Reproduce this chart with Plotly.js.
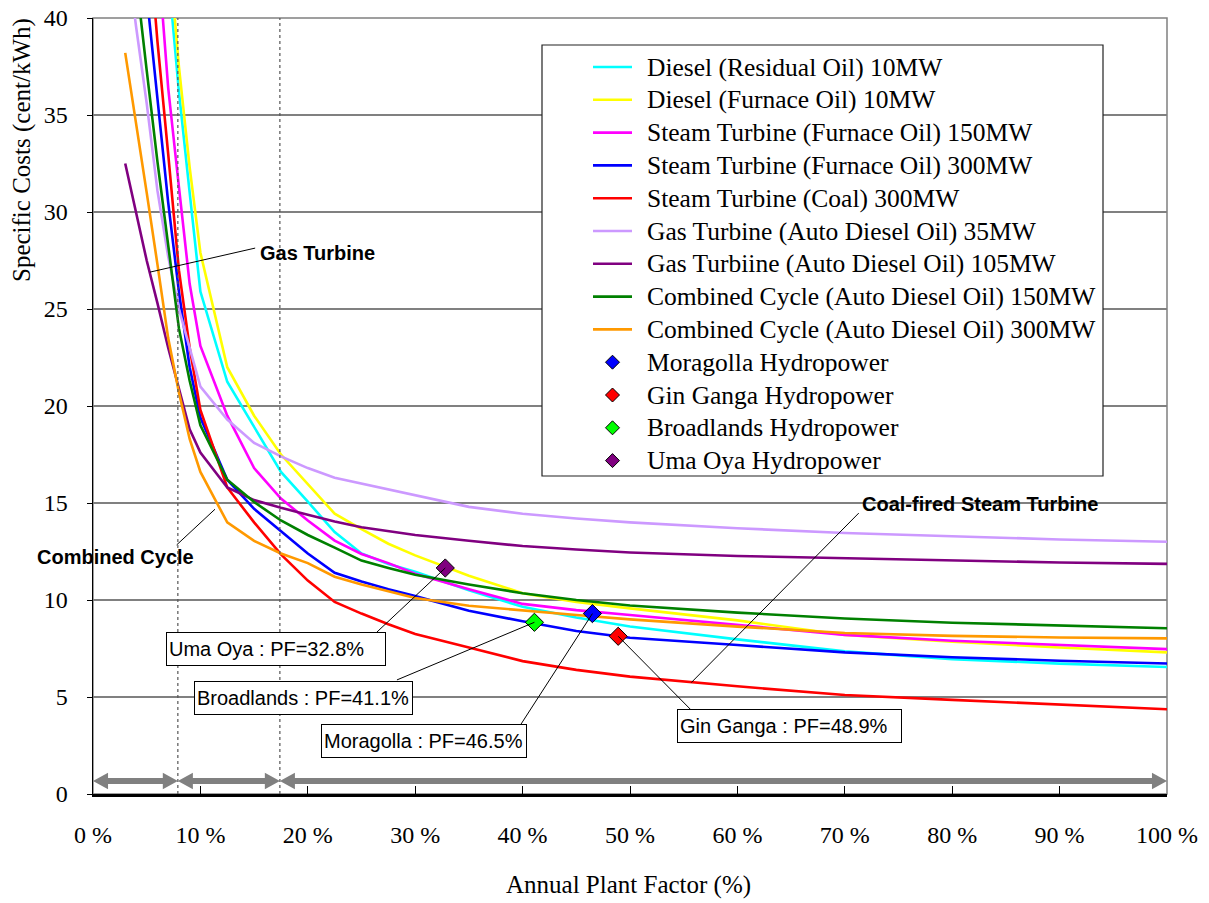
<!DOCTYPE html>
<html>
<head>
<meta charset="utf-8">
<script src="https://cdn.plot.ly/plotly-3.0.1.min.js"></script>
<style>
  html, body { margin: 0; padding: 0; background: #ffffff; }
  #chart { width: 1209px; height: 903px; }
</style>
</head>
<body>
<div id="chart"></div>
<script>
// Annual plant factor (%) at which each generation-cost curve is evaluated
const plantFactor = [3, 4, 5, 6, 7, 8, 9, 10, 12.5, 15, 17.5, 20, 22.5, 25, 27.5, 30, 35, 40, 45, 50, 60, 70, 80, 90, 100];

// Specific generation costs (cent/kWh)
const dieselResidual10 = [75, 65, 56, 48.5, 42.5, 36.2, 31.0, 25.9, 21.25, 18.9, 16.6, 15.07, 13.5, 12.4, 11.86, 11.46, 10.5, 9.65, 9.1, 8.63, 7.97, 7.35, 6.95, 6.72, 6.55];
const dieselFurnace10  = [78, 67, 58, 50.5, 44, 37.5, 32.3, 27.9, 22.0, 19.5, 17.5, 15.95, 14.45, 13.65, 12.9, 12.3, 11.25, 10.35, 9.9, 9.57, 8.95, 8.2, 7.85, 7.55, 7.3];
const steamFurnace150  = [70, 60, 51, 43.6, 36.4, 31.3, 26.3, 23.1, 19.5, 16.8, 15.23, 14.1, 13.06, 12.37, 11.9, 11.35, 10.55, 9.8, 9.48, 9.23, 8.71, 8.2, 7.9, 7.68, 7.47];
const steamFurnace300  = [54, 47, 41.2, 36.0, 30.5, 25.9, 22.0, 19.4, 16.2, 14.7, 13.55, 12.4, 11.4, 10.95, 10.55, 10.2, 9.45, 8.9, 8.4, 8.05, 7.68, 7.3, 7.05, 6.87, 6.73];
const steamCoal300     = [62, 53, 45.5, 38.8, 33.0, 27.0, 23.0, 19.8, 15.8, 14.0, 12.35, 11.0, 9.9, 9.3, 8.75, 8.25, 7.55, 6.85, 6.4, 6.05, 5.55, 5.1, 4.85, 4.62, 4.37];
const gasTurbine35     = [44, 39.6, 35.6, 31.1, 27.7, 25.0, 23.0, 21.0, 19.3, 18.1, 17.4, 16.8, 16.3, 16.0, 15.7, 15.4, 14.8, 14.45, 14.2, 14.0, 13.7, 13.45, 13.27, 13.12, 13.0];
const gasTurbine105    = [32.5, 30.0, 27.5, 25.3, 23.0, 20.9, 18.8, 17.6, 15.8, 15.15, 14.75, 14.4, 14.05, 13.75, 13.55, 13.35, 13.05, 12.78, 12.6, 12.45, 12.27, 12.15, 12.02, 11.93, 11.86];
const combined150      = [47, 42, 37.3, 32.6, 28.2, 24.0, 21.3, 19.0, 16.2, 15.05, 14.1, 13.35, 12.7, 12.03, 11.65, 11.3, 10.8, 10.35, 10.0, 9.72, 9.35, 9.05, 8.83, 8.68, 8.54];
const combined300      = [38.2, 34.7, 31.0, 27.3, 23.5, 20.7, 18.3, 16.6, 14.0, 13.05, 12.4, 11.9, 11.2, 10.8, 10.45, 10.1, 9.7, 9.48, 9.23, 9.0, 8.63, 8.3, 8.15, 8.07, 8.02];

const curveNames = [
  'Diesel (Residual Oil) 10MW',
  'Diesel (Furnace Oil) 10MW',
  'Steam Turbine (Furnace Oil) 150MW',
  'Steam Turbine (Furnace Oil) 300MW',
  'Steam Turbine (Coal) 300MW',
  'Gas Turbine (Auto Diesel Oil) 35MW',
  'Gas Turbiine (Auto Diesel Oil) 105MW',
  'Combined Cycle (Auto Diesel Oil) 150MW',
  'Combined Cycle (Auto Diesel Oil) 300MW'
];
const curveValues = [dieselResidual10, dieselFurnace10, steamFurnace150, steamFurnace300, steamCoal300,
                     gasTurbine35, gasTurbine105, combined150, combined300];
const curveColors = ['#00FFFF', '#FFFF00', '#FF00FF', '#0000FF', '#FF0000', '#CC99FF', '#800080', '#008000', '#FF9900'];

// Hydropower projects: plant factor (%) and specific cost (cent/kWh)
const hydroNames  = ['Moragolla Hydropower', 'Gin Ganga Hydropower', 'Broadlands Hydropower', 'Uma Oya Hydropower'];
const hydroShort  = ['Moragolla', 'Gin Ganga', 'Broadlands', 'Uma Oya'];
const hydroPF     = [46.5, 48.9, 41.1, 32.8];
const hydroCost   = [9.3, 8.13, 8.85, 11.65];
const hydroColors = ['#0000FF', '#FF0000', '#00FF00', '#800080'];

// Operating regimes separated by dotted lines (plant factor %)
const regimeBounds = [0, 7.9, 17.4, 100];

// Axis ticks
const xTickVals = [0, 10, 20, 30, 40, 50, 60, 70, 80, 90, 100];
const xTickText = xTickVals.map(v => v + ' %');
const yTickVals = [0, 5, 10, 15, 20, 25, 30, 35, 40];

const SERIF = 'Liberation Serif';
const SANS = 'Liberation Sans';

// Figure geometry (pixels)
const W = 1209, H = 903;
const M = { l: 93, r: 42, t: 18, b: 109 };
const plotW = W - M.l - M.r, plotH = H - M.t - M.b;
const px2paperX = px => (px - M.l) / plotW;
const px2paperY = py => (H - M.b - py) / plotH;

const traces = curveNames.map((name, i) => ({
  type: 'scatter',
  mode: 'lines',
  name: name,
  x: plantFactor,
  y: curveValues[i],
  line: { color: curveColors[i], width: 2.6 },
  showlegend: false
}));

hydroNames.forEach((name, i) => {
  traces.push({
    type: 'scatter',
    mode: 'markers',
    name: name,
    x: [hydroPF[i]],
    y: [hydroCost[i]],
    marker: { symbol: 'diamond', size: 14, color: hydroColors[i], line: { color: '#000000', width: 1 } },
    showlegend: false
  });
});

const shapes = [];
const annotations = [];

// Plot frame (top and right edges)
shapes.push({ type: 'rect', xref: 'paper', yref: 'paper', x0: 0, x1: 1, y0: 0, y1: 1,
  line: { color: '#808080', width: 1.5 }, layer: 'below' });

// Dotted regime separators
regimeBounds.slice(1, -1).forEach(b => {
  shapes.push({ type: 'line', xref: 'x', yref: 'y', x0: b, x1: b, y0: 0, y1: 40,
    line: { color: '#555555', width: 1.2, dash: 'dot' } });
});

// Double-headed grey arrows spanning each regime
const arrowY = 0.67, headLen = 1.4, headHalf = 0.42, bodyHalf = 0.15;
for (let i = 0; i < regimeBounds.length - 1; i++) {
  const a = regimeBounds[i], b = regimeBounds[i + 1];
  const p = [
    [a, arrowY], [a + headLen, arrowY + headHalf], [a + headLen, arrowY + bodyHalf],
    [b - headLen, arrowY + bodyHalf], [b - headLen, arrowY + headHalf], [b, arrowY],
    [b - headLen, arrowY - headHalf], [b - headLen, arrowY - bodyHalf],
    [a + headLen, arrowY - bodyHalf], [a + headLen, arrowY - headHalf]
  ];
  const path = 'M' + p.map(q => q[0] + ',' + q[1]).join(' L') + ' Z';
  shapes.push({ type: 'path', xref: 'x', yref: 'y', path: path,
    fillcolor: '#808080', line: { color: '#808080', width: 0 } });
}

// Leader lines from each hydropower marker to its label box
const hydroLabelAnchor = [[39.85, 3.6], [55.6, 4.38], [28.3, 5.88], [26.44, 8.35]];
hydroPF.forEach((x, i) => {
  shapes.push({ type: 'line', xref: 'x', yref: 'y', x0: x, y0: hydroCost[i],
    x1: hydroLabelAnchor[i][0], y1: hydroLabelAnchor[i][1], line: { color: '#000000', width: 1 } });
});

// Leader lines for the technology callouts
const calloutLines = [
  [5.3, 26.9, 15.1, 28.14],    // Gas Turbine
  [7.79, 12.84, 11.36, 14.68], // Combined Cycle
  [55.7, 5.74, 71.3, 14.48]    // Coal-fired Steam Turbine
];
calloutLines.forEach(c => {
  shapes.push({ type: 'line', xref: 'x', yref: 'y', x0: c[0], y0: c[1], x1: c[2], y1: c[3],
    line: { color: '#000000', width: 1 } });
});

// Hydropower label boxes
const hydroBox = [[21.2, 3.6, 210], [54.4, 4.38, 229], [9.4, 5.82, 223], [6.8, 8.35, 224]];
hydroShort.forEach((name, i) => {
  annotations.push({
    xref: 'x', yref: 'y', x: hydroBox[i][0], y: hydroBox[i][1],
    xanchor: 'left', yanchor: 'top', showarrow: false,
    text: name + ' : PF=' + hydroPF[i].toFixed(1) + '%',
    font: { family: SANS, size: 20, color: '#000000' },
    align: 'left', width: hydroBox[i][2] - 10, height: 28,
    bgcolor: '#FFFFFF', bordercolor: '#000000', borderwidth: 1, borderpad: 2
  });
});

// Technology callouts
annotations.push({ xref: 'x', yref: 'y', x: 15.4, y: 27.9, xanchor: 'left', yanchor: 'middle',
  showarrow: false, text: '<b>Gas Turbine</b>', font: { family: SANS, size: 20, color: '#000000' } });
annotations.push({ xref: 'paper', yref: 'paper', x: px2paperX(35), y: px2paperY(557), xanchor: 'left', yanchor: 'middle',
  showarrow: false, text: '<b>Combined Cycle</b>', font: { family: SANS, size: 20, color: '#000000' } });
annotations.push({ xref: 'x', yref: 'y', x: 71.4, y: 14.95, xanchor: 'left', yanchor: 'middle',
  showarrow: false, text: '<b>Coal-fired Steam Turbine</b>', font: { family: SANS, size: 20, color: '#000000' } });

// Axis titles
annotations.push({ xref: 'paper', yref: 'paper', x: px2paperX(22), y: px2paperY(150), xanchor: 'center', yanchor: 'middle',
  textangle: -90, showarrow: false, text: 'Specific Costs (cent/kWh)',
  font: { family: SERIF, size: 25, color: '#000000' } });
annotations.push({ xref: 'paper', yref: 'paper', x: px2paperX(628), y: px2paperY(885), xanchor: 'center', yanchor: 'middle',
  showarrow: false, text: 'Annual Plant Factor (%)',
  font: { family: SERIF, size: 25, color: '#000000' } });

// Legend box: line samples for cost curves, diamonds for hydropower projects
const LG = { left: 542, top: 45, right: 1103, bottom: 476, row0: 67, step: 32.8,
             sample0: 593, sample1: 632, text: 645, diamond: 7 };
shapes.push({ type: 'rect', xref: 'paper', yref: 'paper',
  x0: px2paperX(LG.left), x1: px2paperX(LG.right), y0: px2paperY(LG.bottom), y1: px2paperY(LG.top),
  fillcolor: '#FFFFFF', line: { color: '#222222', width: 1.2 }, layer: 'above' });

const legendEntries = curveNames.map((n, i) => ({ name: n, color: curveColors[i], kind: 'line' }))
  .concat(hydroNames.map((n, i) => ({ name: n, color: hydroColors[i], kind: 'diamond' })));

legendEntries.forEach((e, i) => {
  const cy = LG.row0 + i * LG.step;
  if (e.kind === 'line') {
    shapes.push({ type: 'line', xref: 'paper', yref: 'paper',
      x0: px2paperX(LG.sample0), x1: px2paperX(LG.sample1), y0: px2paperY(cy), y1: px2paperY(cy),
      line: { color: e.color, width: 2.6 }, layer: 'above' });
  } else {
    const cx = (LG.sample0 + LG.sample1) / 2, d = LG.diamond;
    const pts = [[cx, cy - d], [cx + d, cy], [cx, cy + d], [cx - d, cy]]
      .map(q => px2paperX(q[0]) + ',' + px2paperY(q[1]));
    shapes.push({ type: 'path', xref: 'paper', yref: 'paper', path: 'M' + pts.join(' L') + ' Z',
      fillcolor: e.color, line: { color: '#000000', width: 1 }, layer: 'above' });
  }
  annotations.push({ xref: 'paper', yref: 'paper', x: px2paperX(LG.text), y: px2paperY(cy),
    xanchor: 'left', yanchor: 'middle', showarrow: false, text: e.name,
    font: { family: SERIF, size: 25.5, color: '#000000' } });
});

const layout = {
  width: W,
  height: H,
  margin: { l: M.l, r: M.r, t: M.t, b: M.b, pad: 0 },
  paper_bgcolor: '#FFFFFF',
  plot_bgcolor: '#FFFFFF',
  font: { family: SERIF, color: '#000000' },
  showlegend: false,
  xaxis: {
    range: [0, 100], tickvals: xTickVals, ticktext: xTickText,
    ticks: 'inside', ticklen: 8, tickcolor: '#000000', tickwidth: 1,
    showline: true, linecolor: '#000000', linewidth: 2.5,
    showgrid: false, zeroline: false, fixedrange: true,
    ticklabelstandoff: 18,
    tickfont: { family: SERIF, size: 24, color: '#000000' }
  },
  yaxis: {
    range: [0, 40], tickvals: yTickVals,
    ticks: 'outside', ticklen: 5, tickcolor: '#000000', tickwidth: 1,
    showline: true, linecolor: '#000000', linewidth: 1.5,
    showgrid: true, gridcolor: '#808080', gridwidth: 1.2,
    zeroline: false, fixedrange: true,
    ticklabelstandoff: 14,
    tickfont: { family: SERIF, size: 24, color: '#000000' }
  },
  shapes: shapes,
  annotations: annotations
};

Plotly.newPlot('chart', traces, layout, { displayModeBar: false, staticPlot: true });
</script>
</body>
</html>
